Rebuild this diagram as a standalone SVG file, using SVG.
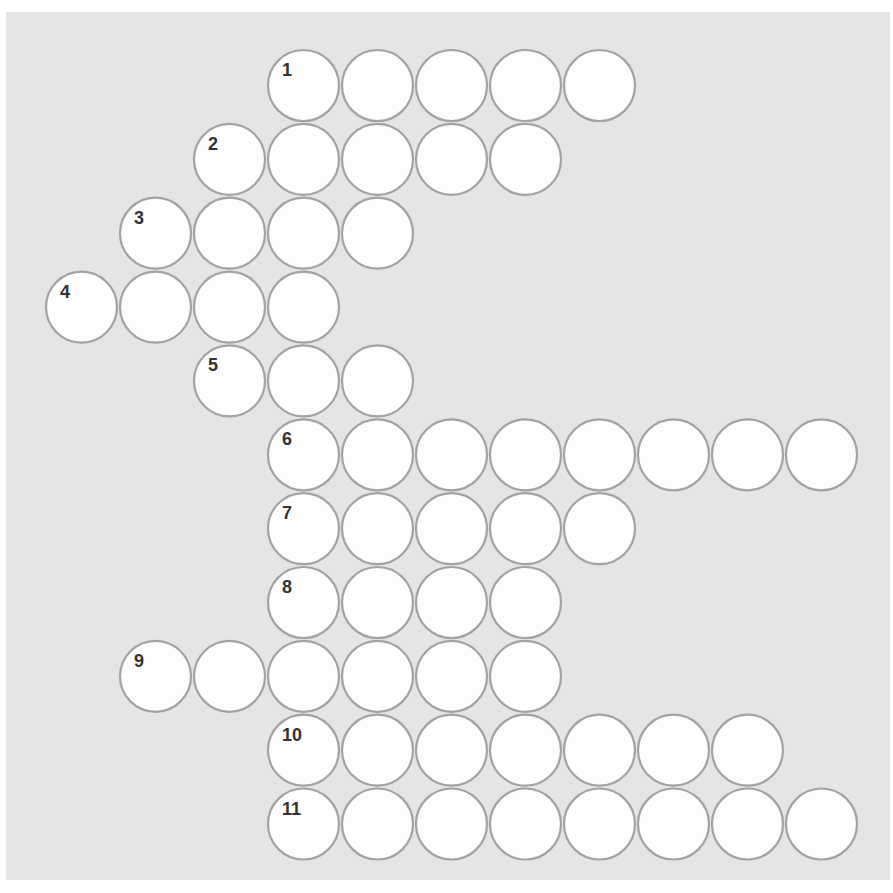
<svg xmlns="http://www.w3.org/2000/svg" width="893" height="893" viewBox="0 0 893 893">
<style>
.c{fill:#fdfdfd;stroke:#a3a3a3;stroke-width:2.2}
.n{font-family:"Liberation Sans",Arial,sans-serif;font-weight:bold;font-size:18px;fill:#333}
</style>
<defs><circle id="o" r="35.5" class="c"/></defs>
<rect x="0" y="0" width="893" height="893" fill="#ffffff"/>
<rect x="6" y="12" width="884" height="868" fill="#e5e5e5"/>
<g id="connectors"/>
<g id="row1">
<use href="#o" x="303.5" y="85.5"/><use href="#o" x="377.5" y="85.5"/><use href="#o" x="451.5" y="85.5"/><use href="#o" x="525.5" y="85.5"/><use href="#o" x="599.5" y="85.5"/>
<text class="n" x="282" y="76">1</text></g>
<g id="row2">
<use href="#o" x="229.5" y="159.4"/><use href="#o" x="303.5" y="159.4"/><use href="#o" x="377.5" y="159.4"/><use href="#o" x="451.5" y="159.4"/><use href="#o" x="525.5" y="159.4"/>
<text class="n" x="208" y="150">2</text></g>
<g id="row3">
<use href="#o" x="155.5" y="233.2"/><use href="#o" x="229.5" y="233.2"/><use href="#o" x="303.5" y="233.2"/><use href="#o" x="377.5" y="233.2"/>
<text class="n" x="134" y="224">3</text></g>
<g id="row4">
<use href="#o" x="81.5" y="307.1"/><use href="#o" x="155.5" y="307.1"/><use href="#o" x="229.5" y="307.1"/><use href="#o" x="303.5" y="307.1"/>
<text class="n" x="60" y="298">4</text></g>
<g id="row5">
<use href="#o" x="229.5" y="380.9"/><use href="#o" x="303.5" y="380.9"/><use href="#o" x="377.5" y="380.9"/>
<text class="n" x="208" y="371">5</text></g>
<g id="row6">
<use href="#o" x="303.5" y="454.8"/><use href="#o" x="377.5" y="454.8"/><use href="#o" x="451.5" y="454.8"/><use href="#o" x="525.5" y="454.8"/><use href="#o" x="599.5" y="454.8"/><use href="#o" x="673.5" y="454.8"/><use href="#o" x="747.5" y="454.8"/><use href="#o" x="821.5" y="454.8"/>
<text class="n" x="282" y="445">6</text></g>
<g id="row7">
<use href="#o" x="303.5" y="528.6"/><use href="#o" x="377.5" y="528.6"/><use href="#o" x="451.5" y="528.6"/><use href="#o" x="525.5" y="528.6"/><use href="#o" x="599.5" y="528.6"/>
<text class="n" x="282" y="519">7</text></g>
<g id="row8">
<use href="#o" x="303.5" y="602.5"/><use href="#o" x="377.5" y="602.5"/><use href="#o" x="451.5" y="602.5"/><use href="#o" x="525.5" y="602.5"/>
<text class="n" x="282" y="593">8</text></g>
<g id="row9">
<use href="#o" x="155.5" y="676.3"/><use href="#o" x="229.5" y="676.3"/><use href="#o" x="303.5" y="676.3"/><use href="#o" x="377.5" y="676.3"/><use href="#o" x="451.5" y="676.3"/><use href="#o" x="525.5" y="676.3"/>
<text class="n" x="134" y="667">9</text></g>
<g id="row10">
<use href="#o" x="303.5" y="750.2"/><use href="#o" x="377.5" y="750.2"/><use href="#o" x="451.5" y="750.2"/><use href="#o" x="525.5" y="750.2"/><use href="#o" x="599.5" y="750.2"/><use href="#o" x="673.5" y="750.2"/><use href="#o" x="747.5" y="750.2"/>
<text class="n" x="282" y="741">10</text></g>
<g id="row11">
<use href="#o" x="303.5" y="824"/><use href="#o" x="377.5" y="824"/><use href="#o" x="451.5" y="824"/><use href="#o" x="525.5" y="824"/><use href="#o" x="599.5" y="824"/><use href="#o" x="673.5" y="824"/><use href="#o" x="747.5" y="824"/><use href="#o" x="821.5" y="824"/>
<text class="n" x="282" y="815">11</text></g>
</svg>
